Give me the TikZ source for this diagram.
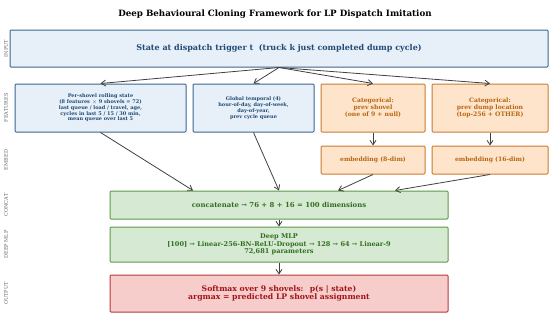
\documentclass[tikz,border=0pt]{standalone}
\usepackage{fontspec}
\setmainfont{DejaVu Serif}
\usetikzlibrary{arrows.meta, positioning}

\definecolor{inbg}{HTML}{E7EFF8}
\definecolor{inline}{HTML}{3A6690}
\definecolor{intext}{HTML}{1F4A74}
\definecolor{catbg}{HTML}{FDE4CB}
\definecolor{catline}{HTML}{CC7A2E}
\definecolor{cattext}{HTML}{B8650F}
\definecolor{mlpbg}{HTML}{D6E9D3}
\definecolor{mlpline}{HTML}{5E9A48}
\definecolor{mlptext}{HTML}{2F6E1F}
\definecolor{outbg}{HTML}{F7CDCB}
\definecolor{outline}{HTML}{B8383A}
\definecolor{outtext}{HTML}{A0141A}

\begin{document}
\begin{tikzpicture}[
    x=1pt, y=-1pt,
    myarrow/.style={-{Straight Barb[length=4.5pt, width=6pt]}, line width=0.8pt, black!75},
    heading/.style={font=\fontsize{8.7}{10}\selectfont\bfseries},
    rowlabel/.style={rotate=90, font=\fontsize{5}{6}\selectfont, text=black!60},
    inbox/.style={draw=inline, fill=inbg, line width=1pt, rounded corners=1pt,
          text=intext, align=center, inner sep=1pt},
    catbox/.style={draw=catline, fill=catbg, line width=1pt, rounded corners=1pt,
          text=cattext, align=center, inner sep=1pt,
          font=\fontsize{6.1}{7}\selectfont\bfseries},
    mlpbox/.style={draw=mlpline, fill=mlpbg, line width=1pt, rounded corners=1pt,
          text=mlptext, align=center, inner sep=1pt},
    outbox/.style={draw=outline, fill=outbg, line width=1pt, rounded corners=1pt,
          text=outtext, align=center, inner sep=1pt,
          font=\fontsize{7.7}{8.8}\selectfont\bfseries},
]
\useasboundingbox (0,0) rectangle (550,316);

% ===================== TITLE =====================
\node[heading] (title) at (275, 14) {Deep Behavioural Cloning Framework for LP Dispatch Imitation};

% ===================== ROW LABELS =====================
\foreach \y/\lab in {48.5/INPUT, 108/FEATURES, 160/EMBED, 205/CONCAT, 244.5/DEEP MLP, 293.5/OUTPUT}
    \node[rowlabel] (lab\y) at (6, \y) {\lab};

% ===================== INPUT =====================
\node[inbox, minimum width=538pt, minimum height=37pt,
      font=\fontsize{8}{9}\selectfont\bfseries] (state) at (279, 48.5)
    {State at dispatch trigger t \ (truck k just completed dump cycle)};

% ===================== FEATURES =====================
\node[inbox, minimum width=171pt, minimum height=48pt,
      font=\fontsize{5}{5.8}\selectfont\bfseries] (pershovel) at (100.5, 108)
    {Per-shovel rolling state\\(8 features $\times$ 9 shovels = 72)\\last queue / load / travel, age,\\cycles in last 5 / 15 / 30 min,\\mean queue over last 5};

\node[inbox, minimum width=121pt, minimum height=48pt,
      font=\fontsize{5}{5.8}\selectfont\bfseries] (temporal) at (253.5, 108)
    {Global temporal (4)\\hour-of-day, day-of-week,\\day-of-year,\\prev cycle queue};

\node[catbox, minimum width=104pt, minimum height=48pt] (prevshovel) at (373, 108)
    {Categorical:\\prev shovel\\(one of 9 + null)};

\node[catbox, minimum width=116pt, minimum height=48pt] (prevdump) at (490, 108)
    {Categorical:\\prev dump location\\(top-256 + OTHER)};

% ===================== EMBED =====================
\node[catbox, minimum width=104pt, minimum height=28pt] (embshovel) at (373, 160)
    {embedding (8-dim)};
\node[catbox, minimum width=116pt, minimum height=28pt] (embdump) at (490, 160)
    {embedding (16-dim)};

% ===================== CONCAT / MLP / OUTPUT =====================
\node[mlpbox, minimum width=338pt, minimum height=28pt,
      font=\fontsize{6.9}{8}\selectfont\bfseries] (concat) at (279, 205)
    {concatenate → 76 + 8 + 16 = 100 dimensions};

\node[mlpbox, minimum width=338pt, minimum height=35pt,
      font=\fontsize{6.55}{7.7}\selectfont\bfseries] (mlp) at (279, 244.5)
    {Deep MLP\\{}[100] → Linear-256-BN-ReLU-Dropout → 128 → 64 → Linear-9\\72,681 parameters};

\node[outbox, minimum width=338pt, minimum height=37pt] (softmax) at (279, 293.5)
    {Softmax over 9 shovels: \ p(s | state)\\argmax = predicted LP shovel assignment};

% ===================== ARROWS =====================
% input fans out to the four feature groups
\foreach \f in {pershovel, temporal, prevshovel, prevdump}
    \draw[myarrow] (state.south) -- (\f.north);

% categorical -> embedding
\draw[myarrow] (prevshovel) -- (embshovel);
\draw[myarrow] (prevdump) -- (embdump);

% everything into the concat layer
\draw[myarrow] (pershovel.south) -- ([xshift=-86pt]concat.north);
\draw[myarrow] (temporal.south) -- (concat.north);
\draw[myarrow] (embshovel.south) -- ([xshift=59pt]concat.north);
\draw[myarrow] (embdump.south) -- ([xshift=116pt]concat.north);

\draw[myarrow] (concat) -- (mlp);
\draw[myarrow] (mlp) -- (softmax);

\end{tikzpicture}
\end{document}
